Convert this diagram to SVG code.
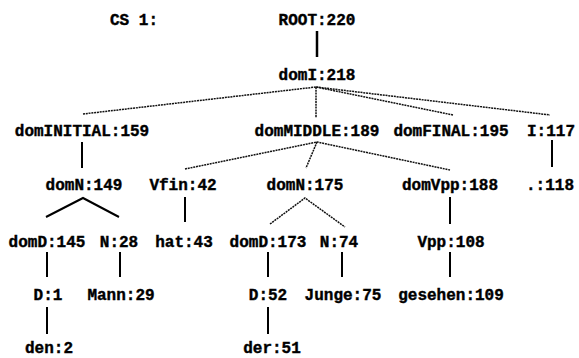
<svg xmlns="http://www.w3.org/2000/svg" width="579" height="358" viewBox="0 0 579 358">
<style>
text{font-family:"Liberation Mono","DejaVu Sans Mono",monospace;font-size:16px;font-weight:bold;fill:#000;stroke:#000;stroke-width:0.4;text-anchor:middle}
.s{stroke:#000;stroke-width:2;fill:none}
.d{stroke:#111;stroke-width:1.5;fill:none;stroke-dasharray:2 0.8}
</style>
<rect width="579" height="358" fill="#fff"/>
<g id="connectors">
<line class="s" x1="317" y1="31" x2="317" y2="57" style="stroke-width:2.5"/>
<polyline class="d" points="83,114 316,87 453,115"/>
<line class="d" x1="316" y1="87" x2="550" y2="115"/>
<line class="d" x1="316" y1="87" x2="316" y2="118"/>
<line class="s" x1="82" y1="142" x2="82" y2="168"/>
<polyline class="d" points="185,169 317,142 450,170"/>
<line class="d" x1="317" y1="142" x2="306" y2="168"/>
<line class="s" x1="552" y1="140" x2="552" y2="167"/>
<polyline class="s" points="46,217 83,198 119,217"/>
<line class="s" x1="185" y1="197" x2="185" y2="222"/>
<polyline class="d" points="270,224 305,198 345,227"/>
<line class="s" x1="450" y1="197" x2="450" y2="224"/>
<line class="s" x1="47" y1="252" x2="47" y2="277"/>
<line class="s" x1="120" y1="252" x2="120" y2="277"/>
<line class="s" x1="268" y1="252" x2="268" y2="277"/>
<line class="s" x1="342" y1="252" x2="342" y2="277"/>
<line class="s" x1="450" y1="252" x2="450" y2="277"/>
<line class="s" x1="47" y1="307" x2="47" y2="334"/>
<line class="s" x1="268" y1="307" x2="268" y2="334"/>
</g>
<g id="cs1"><text x="134" y="25">CS 1:</text></g>
<g id="root"><text x="317" y="25">ROOT:220</text></g>
<g id="domI"><text x="317" y="80">domI:218</text></g>
<g id="domINITIAL"><text x="82" y="136">domINITIAL:159</text></g>
<g id="domMIDDLE"><text x="317" y="136">domMIDDLE:189</text></g>
<g id="domFINAL"><text x="451" y="136">domFINAL:195</text></g>
<g id="I117"><text x="551" y="136">I:117</text></g>
<g id="domN149"><text x="84" y="190">domN:149</text></g>
<g id="Vfin"><text x="183" y="190">Vfin:42</text></g>
<g id="domN175"><text x="305" y="190">domN:175</text></g>
<g id="domVpp"><text x="450" y="190">domVpp:188</text></g>
<g id="dot118"><text x="550" y="190">.:118</text></g>
<g id="domD145"><text x="47" y="247">domD:145</text></g>
<g id="N28"><text x="119" y="247">N:28</text></g>
<g id="hat"><text x="184" y="247">hat:43</text></g>
<g id="domD173"><text x="268" y="247">domD:173</text></g>
<g id="N74"><text x="339" y="247">N:74</text></g>
<g id="Vpp"><text x="451" y="247">Vpp:108</text></g>
<g id="D1"><text x="48" y="300">D:1</text></g>
<g id="Mann"><text x="121" y="300">Mann:29</text></g>
<g id="D52"><text x="268" y="300">D:52</text></g>
<g id="Junge"><text x="343" y="300">Junge:75</text></g>
<g id="gesehen"><text x="451" y="300">gesehen:109</text></g>
<g id="den"><text x="49" y="353">den:2</text></g>
<g id="der"><text x="272" y="353">der:51</text></g>
</svg>
